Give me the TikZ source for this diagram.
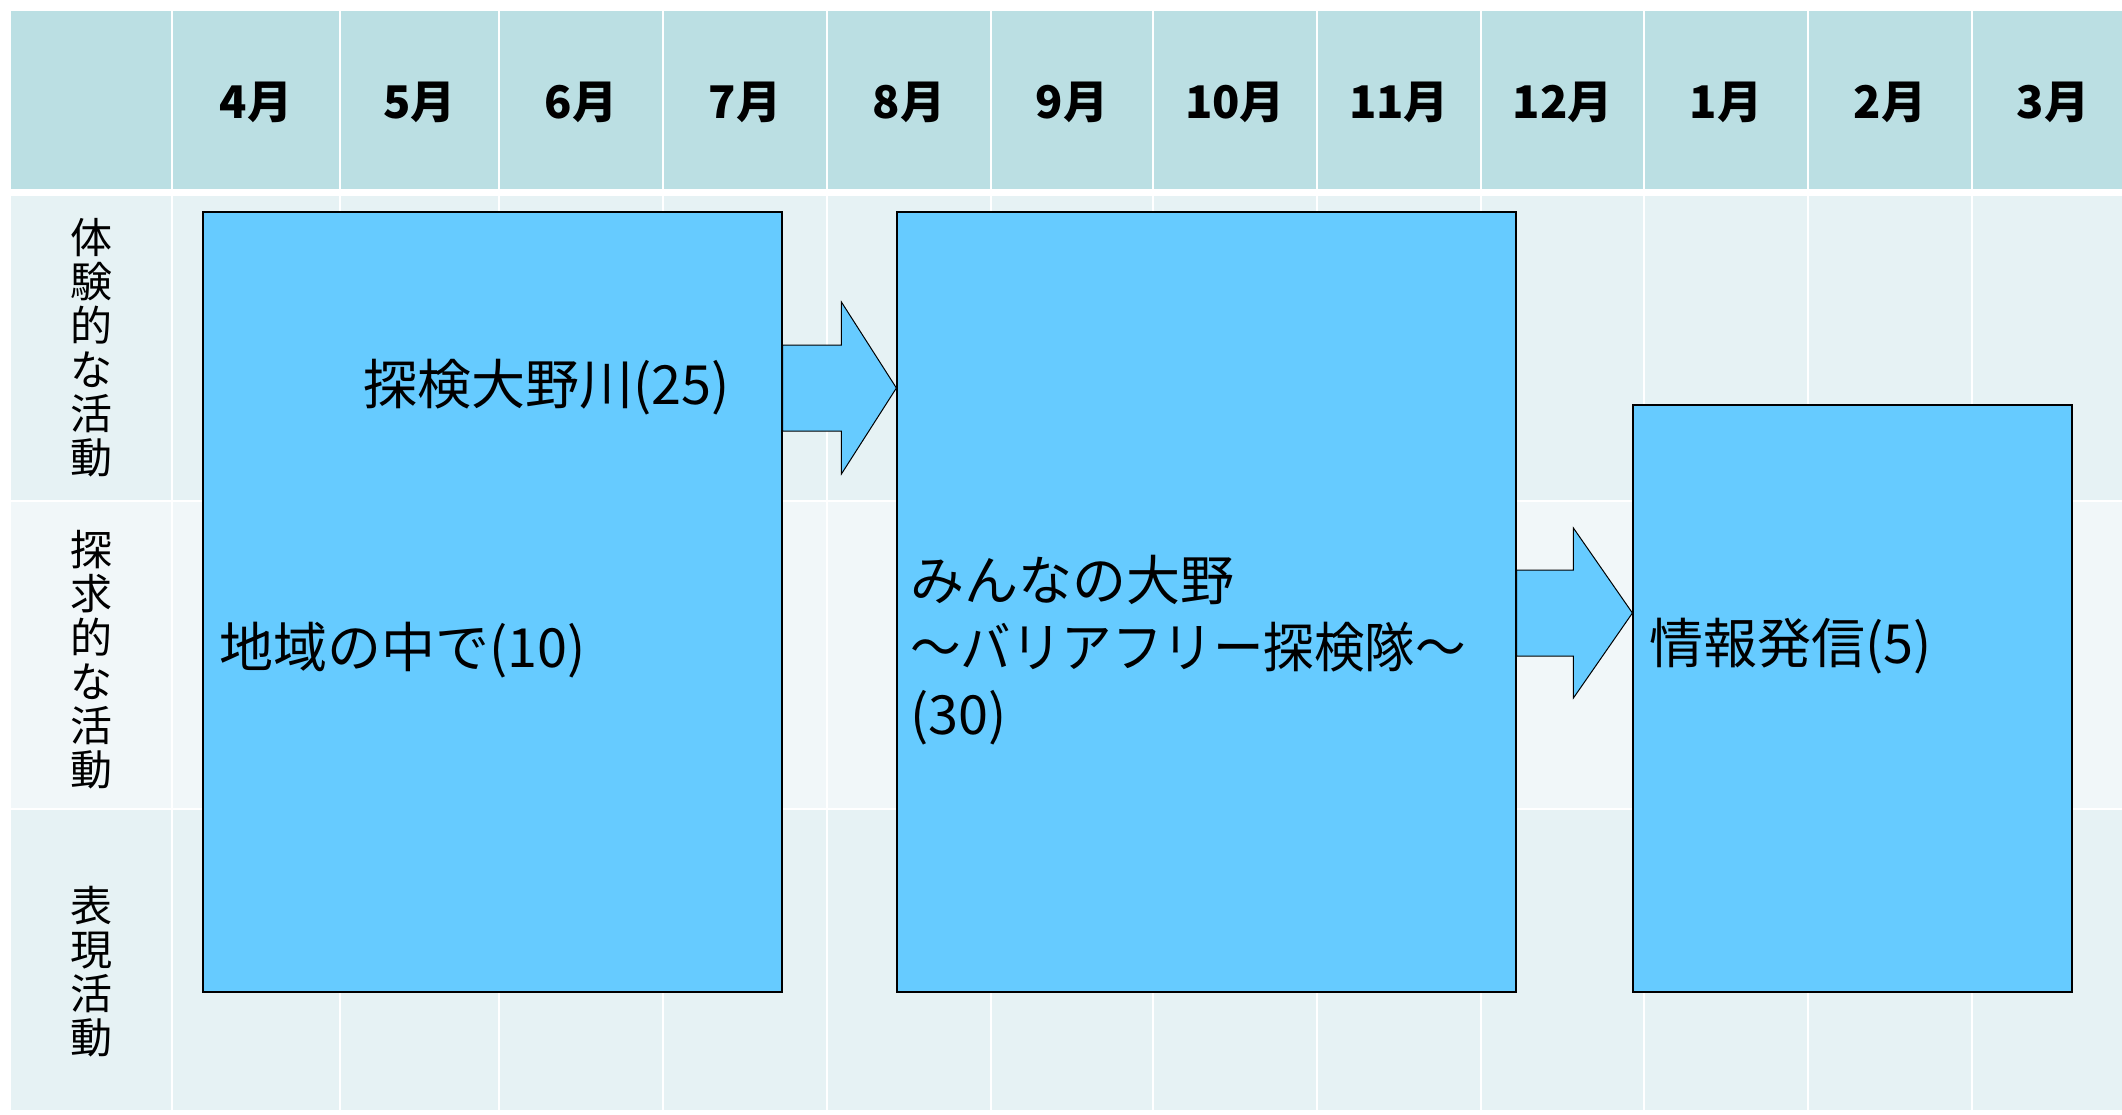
\documentclass[tikz,border=0pt]{standalone}
\usepackage{fontspec}
\setmainfont{Noto Sans CJK JP}
\usetikzlibrary{calc}
\definecolor{hdr}{HTML}{BBDFE3}
\definecolor{rowa}{HTML}{E6F2F4}
\definecolor{rowb}{HTML}{F1F7F9}
\definecolor{boxc}{HTML}{66CBFF}
\tikzset{
 gridline/.style={draw=white, line width=2.5pt},
 actbox/.style={draw=black, line width=1.2pt, fill=boxc, inner sep=0pt, rectangle},
 blockarrow/.style={draw=black, line width=1pt, fill=boxc, line join=miter},
 month/.style={font=\fontsize{45}{50}\selectfont\bfseries, inner sep=0pt},
 rowlab/.style={font=\fontsize{42}{44}\selectfont, align=center, inner sep=0pt},
 boxtext/.style={font=\fontsize{54}{67}\selectfont, inner sep=0pt, anchor=west, align=left},
}
\begin{document}
\begin{tikzpicture}[x=1pt,y=-1pt]
\useasboundingbox (0,0) rectangle (2122,1114);
\fill[white] (0,0) rectangle (2122,1114);
% table background
\fill[hdr] (11,11) rectangle (2122,189);
\fill[rowa] (11,196) rectangle (2122,501);
\fill[rowb] (11,501) rectangle (2122,809);
\fill[rowa] (11,809) rectangle (2122,1110);
\foreach \x in {172,340,499,663,827,991,1153,1317,1481,1644,1808,1972}
  \draw[gridline] (\x,11) -- (\x,1110);
\draw[gridline] (11,501) -- (2122,501);
\draw[gridline] (11,809) -- (2122,809);
% month headers
\node[month] (m4) at (256,102) {4月};
\node[month] (m5) at (419.5,102) {5月};
\node[month] (m6) at (581,102) {6月};
\node[month] (m7) at (745,102) {7月};
\node[month] (m8) at (909,102) {8月};
\node[month] (m9) at (1072,102) {9月};
\node[month] (m10) at (1235,102) {10月};
\node[month] (m11) at (1399,102) {11月};
\node[month] (m12) at (1562.5,102) {12月};
\node[month] (m1) at (1726,102) {1月};
\node[month] (m2) at (1890,102) {2月};
\node[month] (m3) at (2053,102) {3月};
% row labels
\node[rowlab] (l1) at (91,348) {体\\験\\的\\な\\活\\動};
\node[rowlab] (l2) at (91,660) {探\\求\\的\\な\\活\\動};
\node[rowlab] (l3) at (91,972) {表\\現\\活\\動};
% activity boxes
\node[actbox, minimum width=579pt, minimum height=780pt] (b1) at (492.5,602) {};
\node[actbox, minimum width=619pt, minimum height=780pt] (b2) at (1206.5,602) {};
\node[actbox, minimum width=439pt, minimum height=587pt] (b3) at (1852.5,698.5) {};
% box texts
\node[boxtext] (t1) at (363,387) {探検大野川(25)};
\node[boxtext] (t2) at (219,650) {地域の中で(10)};
\node[boxtext] (t3) at (910,650) {みんなの大野\\\scalebox{0.935}[1]{～バリアフリー探検隊～}\\(30)};
\node[boxtext] (t4) at (1649,646) {情報発信(5)};
% block arrows
\coordinate (y1) at (0,388);
\coordinate (y2) at (0,613);
\coordinate (tip1) at (b2.west |- y1);
\coordinate (tip2) at (b3.west |- y2);
\draw[blockarrow] ($(b1.east |- tip1)+(0,-43)$) -- ($(tip1)+(-55,-43)$) -- ($(tip1)+(-55,-86)$)
  -- (tip1) -- ($(tip1)+(-55,86)$) -- ($(tip1)+(-55,43)$) -- ($(b1.east |- tip1)+(0,43)$) -- cycle;
\draw[blockarrow] ($(b2.east |- tip2)+(0,-43)$) -- ($(tip2)+(-59,-43)$) -- ($(tip2)+(-59,-85)$)
  -- (tip2) -- ($(tip2)+(-59,85)$) -- ($(tip2)+(-59,43)$) -- ($(b2.east |- tip2)+(0,43)$) -- cycle;
\end{tikzpicture}
\end{document}
